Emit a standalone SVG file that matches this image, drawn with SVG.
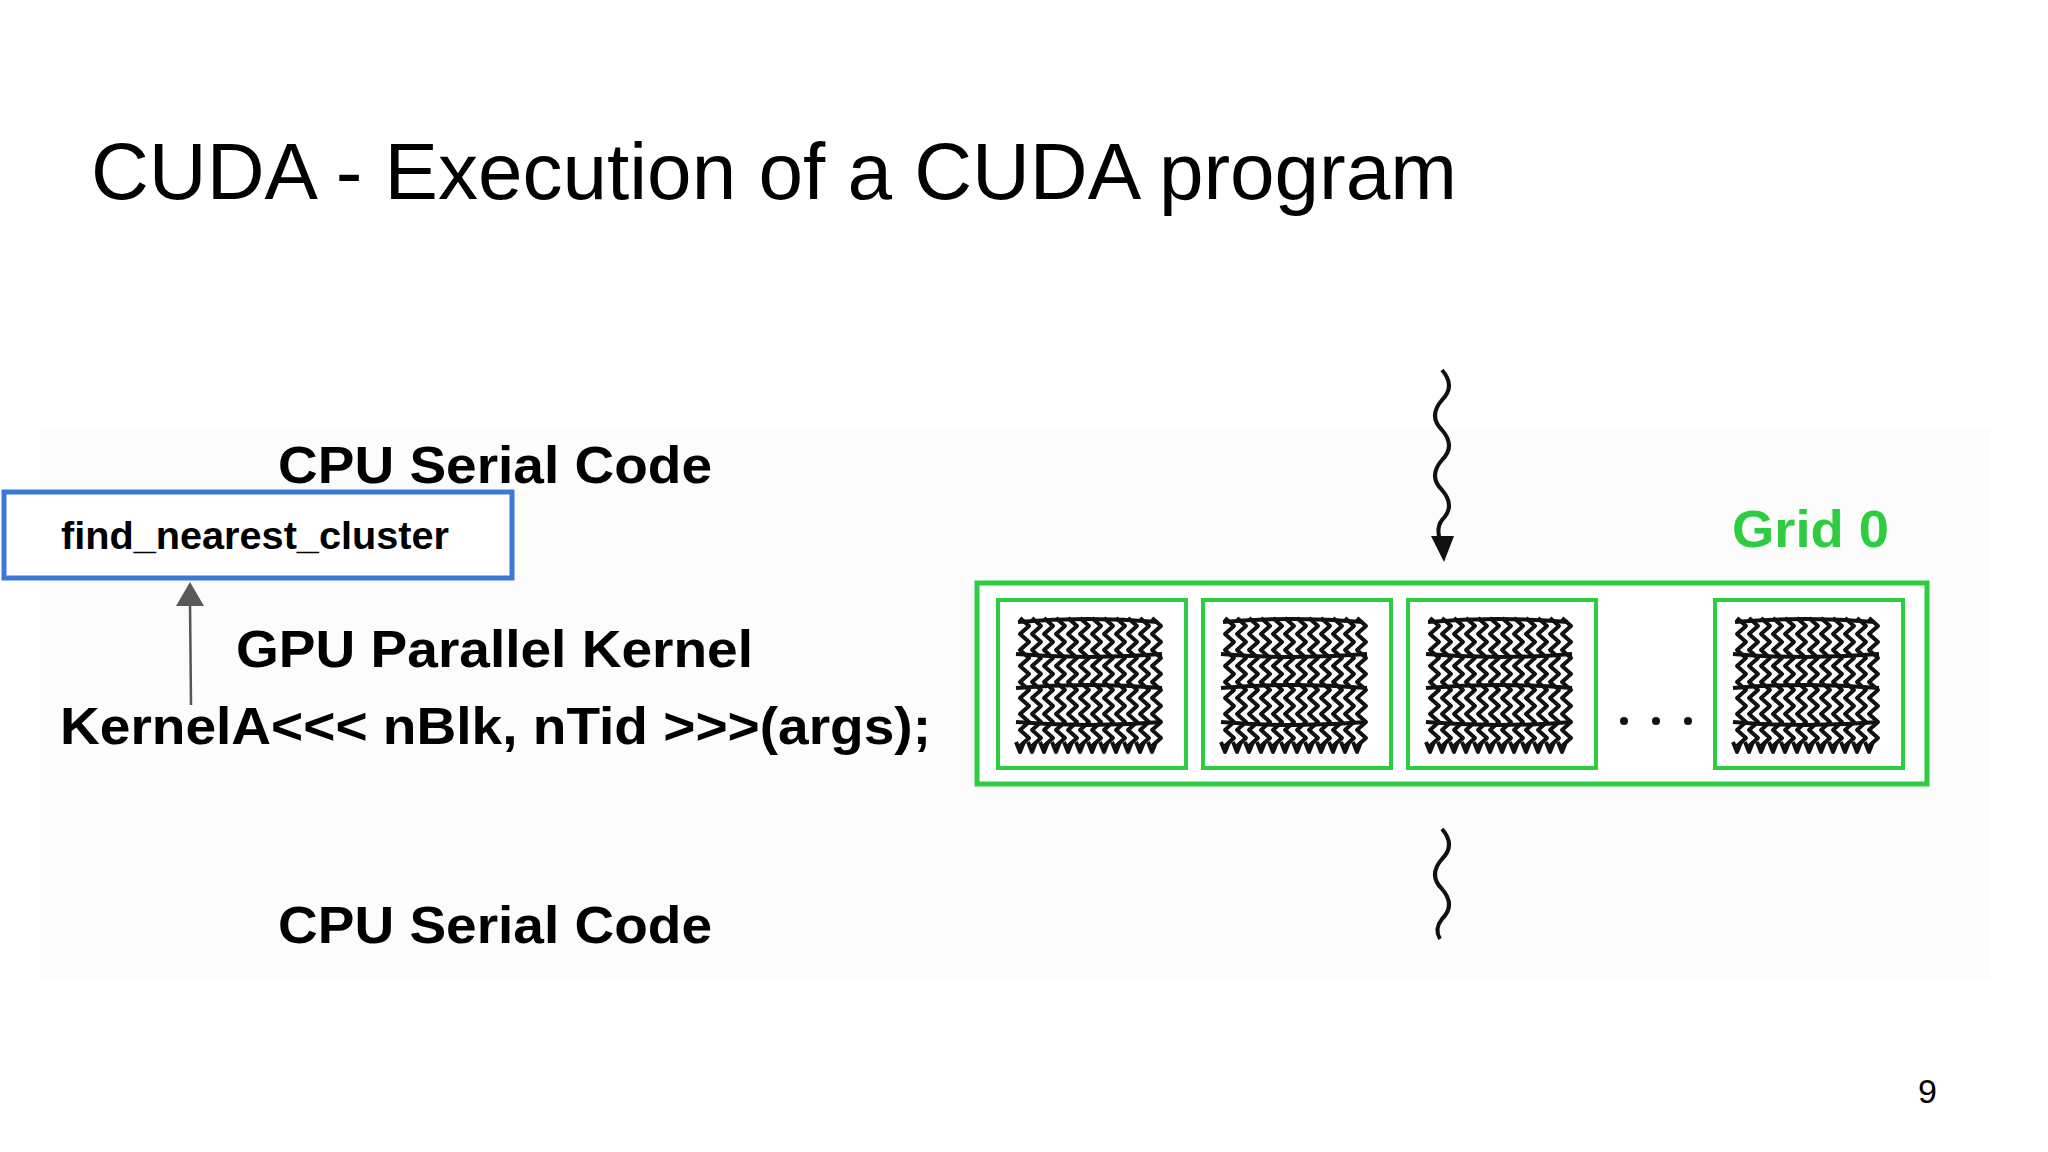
<svg xmlns="http://www.w3.org/2000/svg" width="2048" height="1152" viewBox="0 0 2048 1152">
<style>
.t{font-family:"Liberation Sans",Arial,sans-serif;fill:#000}
.b{font-weight:bold}
.blk{fill:none;stroke:#2ecc40;stroke-width:4}
.th{fill:none;stroke:#111;stroke-width:4;stroke-linejoin:round}
</style>
<defs>
<g id="threads">
<path class="th" d="M0,0 l9,8 l-9,8 l9,8 l-9,8 l9,8 l-9,8 l9,8 l-9,8 l9,8 l-9,8 l9,8 l-9,8 l9,8 l-9,8 l9,8 l-9,8 M-4,124 l4,10 l4,-10"/>
</g>
<g id="block">
<rect class="blk" x="0" y="0" width="188" height="168"/>
<g transform="translate(22,18)">
<use href="#threads" x="0"/><use href="#threads" x="12"/><use href="#threads" x="24"/><use href="#threads" x="36"/><use href="#threads" x="48"/><use href="#threads" x="60"/><use href="#threads" x="72"/><use href="#threads" x="84"/><use href="#threads" x="96"/><use href="#threads" x="108"/><use href="#threads" x="120"/><use href="#threads" x="132"/>
<path class="th" d="M-2,4 q70,-6 140,0 M-4,36 q72,6 146,0 M-4,70 q72,-6 146,0 M-4,104 q72,6 146,0"/>
</g>
</g>
</defs>
<rect width="2048" height="1152" fill="#fff"/>
<rect x="40" y="430" width="1950" height="550" fill="#fcfcfc"/>
<text class="t" x="91" y="199" font-size="80" textLength="1366" lengthAdjust="spacingAndGlyphs">CUDA - Execution of a CUDA program</text>
<g id="labels">
<text class="t b" x="278" y="483" font-size="52" textLength="434" lengthAdjust="spacingAndGlyphs">CPU Serial Code</text>
<text class="t b" x="236" y="667" font-size="52" textLength="517" lengthAdjust="spacingAndGlyphs">GPU Parallel Kernel</text>
<text class="t b" x="60" y="744" font-size="52" textLength="871" lengthAdjust="spacingAndGlyphs">KernelA&lt;&lt;&lt; nBlk, nTid &gt;&gt;&gt;(args);</text>
<text class="t b" x="278" y="943" font-size="52" textLength="434" lengthAdjust="spacingAndGlyphs">CPU Serial Code</text>
</g>
<g id="find_nearest_cluster">
<rect x="4" y="492" width="508" height="86" fill="#fff" stroke="#3c78d8" stroke-width="5"/>
<text class="t b" x="61" y="549" font-size="38" textLength="388" lengthAdjust="spacingAndGlyphs">find_nearest_cluster</text>
</g>
<g id="grid0">
<text x="1732" y="547" font-family="Liberation Sans,Arial,sans-serif" font-weight="bold" font-size="52" fill="#2ecc40" textLength="157" lengthAdjust="spacingAndGlyphs">Grid 0</text>
<rect x="977" y="583" width="950" height="201" fill="#fff" stroke="#2ecc40" stroke-width="5"/>
<use href="#block" x="998" y="600"/>
<use href="#block" x="1203" y="600"/>
<use href="#block" x="1408" y="600"/>
<use href="#block" x="1715" y="600"/>
<circle cx="1624" cy="721" r="4" fill="#111"/><circle cx="1656" cy="721" r="4" fill="#111"/><circle cx="1688" cy="721" r="4" fill="#111"/>
</g>
<g id="connectors">
<path d="M1442,370 q14,16 0,30 q-14,16 0,30 q14,16 0,30 q-14,16 0,30 q14,16 0,30 q-6,8 -2,20" fill="none" stroke="#111" stroke-width="4"/>
<path d="M1431,536 l13,26 l10,-26 z" fill="#111"/>
<path d="M1442,829 q14,16 0,30 q-14,16 0,30 q14,16 0,30 q-8,10 -2,20" fill="none" stroke="#111" stroke-width="4"/>
<line x1="191" y1="705" x2="190" y2="602" stroke="#555" stroke-width="2.5"/>
<path d="M176,606 l14,-24 l14,24 z" fill="#595959"/>
</g>
<text class="t" x="1918" y="1103" font-size="34">9</text>
</svg>
